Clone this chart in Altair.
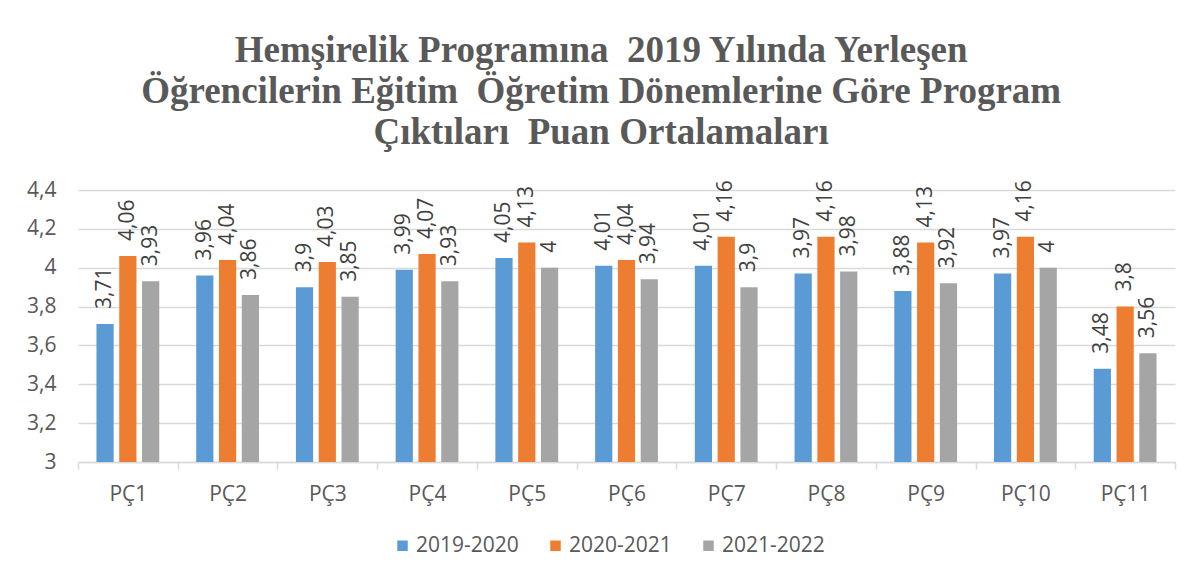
import altair as alt
import pandas as pd

categories = ["PÇ1", "PÇ2", "PÇ3", "PÇ4", "PÇ5", "PÇ6", "PÇ7", "PÇ8", "PÇ9", "PÇ10", "PÇ11"]
series_names = ["2019-2020", "2020-2021", "2021-2022"]
s2019 = [3.71, 3.96, 3.9, 3.99, 4.05, 4.01, 4.01, 3.97, 3.88, 3.97, 3.48]
s2020 = [4.06, 4.04, 4.03, 4.07, 4.13, 4.04, 4.16, 4.16, 4.13, 4.16, 3.8]
s2021 = [3.93, 3.86, 3.85, 3.93, 4.0, 3.94, 3.9, 3.98, 3.92, 4.0, 3.56]
y_ticks = [3, 3.2, 3.4, 3.6, 3.8, 4, 4.2, 4.4]
colors = ["#5B9BD5", "#ED7D31", "#A5A5A5"]
title_lines = [
    "Hemşirelik Programına\u00a0 2019 Yılında Yerleşen",
    "Öğrencilerin Eğitim\u00a0 Öğretim Dönemlerine Göre Program",
    "Çıktıları\u00a0 Puan Ortalamaları",
]

rows = []
for name, vals in zip(series_names, [s2019, s2020, s2021]):
    for c, v in zip(categories, vals):
        rows.append({"cat": c, "series": name, "value": v})
df = pd.DataFrame(rows)

FONT = "Open Sans"

x_scale = alt.Scale(paddingInner=0, paddingOuter=0)
x_axis = alt.Axis(labelAngle=0, labelFont=FONT, labelFontSize=21, labelColor="#595959",
                  domainColor="#d9d9d9", domainWidth=1.5, tickColor="#d9d9d9", tickWidth=1.5,
                  tickSize=7, tickBand="extent", labelPadding=14, grid=False)
xoff = alt.XOffset("series:N", sort=series_names,
                   scale=alt.Scale(paddingInner=0.245, paddingOuter=0.81))

y_scale = alt.Scale(domain=[3, 4.4], nice=False, zero=False)
y_axis = alt.Axis(values=y_ticks, labelExpr="replace(toString(datum.value), '.', ',')",
                  labelFont=FONT, labelFontSize=21, labelColor="#595959",
                  labelPadding=22, ticks=False, domain=False, labelOverlap=False,
                  grid=True, gridColor="#d9d9d9", gridWidth=1.5)

bars = alt.Chart(df).mark_bar().encode(
    x=alt.X("cat:N", sort=categories, title=None, scale=x_scale, axis=x_axis),
    xOffset=xoff,
    y=alt.Y("value:Q", scale=y_scale, title=None, axis=y_axis),
    y2=alt.datum(3),
    color=alt.Color("series:N", sort=series_names,
                    scale=alt.Scale(domain=series_names, range=colors),
                    legend=alt.Legend(title=None, orient="none", direction="horizontal",
                                      legendX=314, legendY=345,
                                      symbolType="square", symbolSize=110, symbolStrokeWidth=0,
                                      labelFont=FONT, labelFontSize=21, labelColor="#595959",
                                      columnPadding=26, labelOffset=3)),
)

labels = alt.Chart(df).mark_text(
    angle=270, align="left", baseline="middle", dx=15,
    font=FONT, fontSize=21, color="#404040"
).encode(
    x=alt.X("cat:N", sort=categories, title=None, scale=x_scale, axis=x_axis),
    xOffset=xoff,
    y=alt.Y("value:Q", scale=y_scale, title=None, axis=y_axis),
    text=alt.Text("label:N"),
).transform_calculate(label="replace(toString(datum.value), '.', ',')")

chart = alt.layer(bars, labels).properties(
    width=1097, height=272,
    autosize=alt.AutoSizeParams(type="none"),
    padding={"left": 70, "top": 182, "right": 17, "bottom": 115},
    title=alt.TitleParams(text=title_lines, font="Liberation Serif", fontSize=37, fontWeight="bold",
                          color="#595959", lineHeight=41, anchor="middle", frame="bounds", offset=27),
).configure(background="white", view=alt.ViewConfig(stroke=None))

chart.save("out.html", embed_options={"renderer": "svg", "actions": False})
